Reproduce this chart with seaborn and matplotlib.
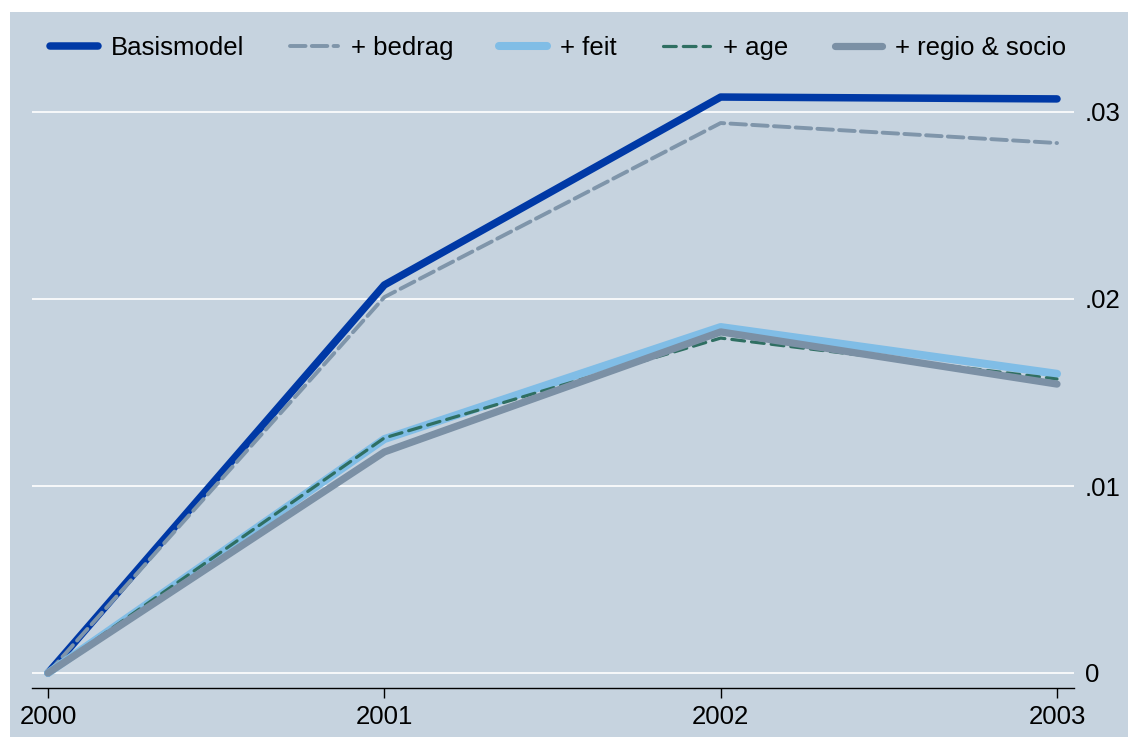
import matplotlib

matplotlib.use("Agg")
import matplotlib.pyplot as plt
from matplotlib.patches import Rectangle
import seaborn as sns

# data
years = [2000, 2001, 2002, 2003]
basismodel = [0.0, 0.02075, 0.0308, 0.0307]
bedrag = [0.0, 0.0201, 0.02941, 0.02834]
feit = [0.0, 0.01251, 0.0185, 0.0160]
age = [0.0, 0.01257, 0.01791, 0.01572]
regio_socio = [0.0, 0.01182, 0.01824, 0.01545]

series_names = ["Basismodel", "+ bedrag", "+ feit", "+ age", "+ regio & socio"]
y_ticks = [0, 0.01, 0.02, 0.03]
y_ticklabels = ["0", ".01", ".02", ".03"]

BG = "#c6d3df"

sns.set_theme(style="white")
plt.rcParams["font.family"] = ["Liberation Sans", "DejaVu Sans"]
plt.rcParams["font.size"] = 18.5
plt.rcParams["text.color"] = "black"

fig = plt.figure(figsize=(11.28, 7.37), dpi=100, facecolor="white")
# graph region (slightly inset from the top/left edge like the original)
fig.patches.append(Rectangle((10 / 1128, 0), 1, (737 - 12) / 737,
                             transform=fig.transFigure, facecolor=BG,
                             edgecolor="none", zorder=-1))

ax = fig.add_axes([32 / 1128, (737 - 688) / 737,
                   (1074 - 32) / 1128, (688 - 80) / 737])
ax.set_facecolor(BG)

styles = [
    dict(color="#0039a6", lw=5.4, ls="-"),
    dict(color="#7f95aa", lw=2.8, ls=(0, (4, 1.6))),
    dict(color="#80bde6", lw=5.8, ls="-"),
    dict(color="#2f6f62", lw=2.3, ls=(0, (4, 2.2))),
    dict(color="#7b90a5", lw=5.2, ls="-"),
]
values = [basismodel, bedrag, feit, age, regio_socio]

for name, vals, st in zip(series_names, values, styles):
    sns.lineplot(x=years, y=vals, ax=ax, label=name, legend=False,
                 color=st["color"], linewidth=st["lw"], linestyle=st["ls"],
                 solid_capstyle="round", dash_capstyle="round")

ax.set_xlim(2000 - 16 / 336.33, 2003 + 17 / 336.33)
ax.set_ylim(-15 / 18700, (673 - 80) / 18700)

ax.set_xticks(years)
ax.set_xticklabels([str(y) for y in years])
ax.set_yticks(y_ticks)
ax.set_yticklabels(y_ticklabels)
ax.yaxis.tick_right()
ax.tick_params(axis="y", length=0, pad=8, labelsize=18.5, colors="black")
ax.tick_params(axis="x", length=7, width=1, pad=5, labelsize=18.5,
               colors="black", bottom=True)
ax.set_xlabel("")
ax.set_ylabel("")

ax.grid(axis="y", color="white", lw=1.2)
ax.grid(axis="x", visible=False)
ax.set_axisbelow(True)
for side in ["top", "left", "right"]:
    ax.spines[side].set_visible(False)
ax.spines["bottom"].set_color("black")
ax.spines["bottom"].set_linewidth(1)

handles, labels = ax.get_legend_handles_labels()
fig.legend(handles, labels, loc="center left", ncol=5, frameon=False,
           bbox_to_anchor=(40 / 1128, (737 - 48) / 737),
           handlelength=1.85, handletextpad=0.5, columnspacing=1.8,
           fontsize=18.5, borderaxespad=0, labelcolor="black")

fig.savefig("out.png", dpi=100, facecolor="white")
